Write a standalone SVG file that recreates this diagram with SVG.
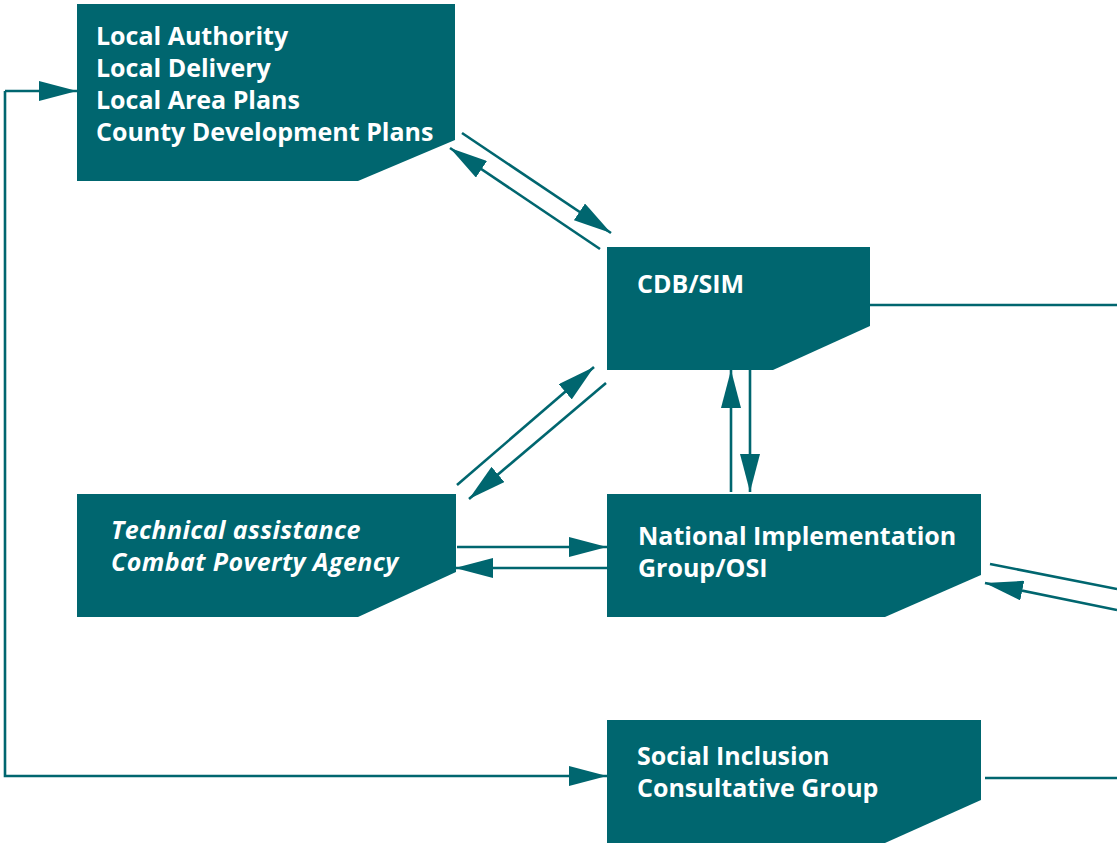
<svg xmlns="http://www.w3.org/2000/svg" width="1117" height="845" viewBox="0 0 1117 845">
  <defs>
    <marker id="head" viewBox="0 0 38 20" refX="38" refY="10" markerWidth="38" markerHeight="20" markerUnits="userSpaceOnUse" orient="auto">
      <path d="M0,0 L38,10 L0,20 Z" fill="#00666f"/>
    </marker>
    <style>
      .box { fill: #00666f; }
      .lbl { fill: #ffffff; font-family: "Open Sans", "Liberation Sans", sans-serif; font-weight: bold; font-size: 25px; }
      .it { font-style: italic; letter-spacing: 0.4px; }
      .wire { stroke: #00666f; stroke-width: 2.6; fill: none; }
      .arr { marker-end: url(#head); }
    </style>
  </defs>
  <rect width="1117" height="845" fill="#ffffff"/>

  <g id="local-authority">
    <path class="box" d="M77,4 H455 V140 L358,181 H77 Z"/>
    <text class="lbl" x="96" y="45">Local Authority</text>
    <text class="lbl" x="96" y="77">Local Delivery</text>
    <text class="lbl" x="96" y="109">Local Area Plans</text>
    <text class="lbl" x="96" y="141">County Development Plans</text>
  </g>

  <g id="cdb-sim">
    <path class="box" d="M607,247 H870 V326 L773,370 H607 Z"/>
    <text class="lbl" x="637" y="293">CDB/SIM</text>
  </g>

  <g id="technical-assistance">
    <path class="box" d="M77,494 H456 V572 L358,617 H77 Z"/>
    <text class="lbl it" x="111" y="539">Technical assistance</text>
    <text class="lbl it" x="111" y="571">Combat Poverty Agency</text>
  </g>

  <g id="national-implementation">
    <path class="box" d="M607,494 H981 V575 L885,617 H607 Z"/>
    <text class="lbl" x="638" y="545">National Implementation</text>
    <text class="lbl" x="638" y="577">Group/OSI</text>
  </g>

  <g id="social-inclusion">
    <path class="box" d="M607,720 H981 V800 L885,843 H607 Z"/>
    <text class="lbl" x="637" y="765">Social Inclusion</text>
    <text class="lbl" x="637" y="797">Consultative Group</text>
  </g>

  <g id="connectors">
    <!-- local authority <-> CDB/SIM -->
    <line class="wire arr" x1="462" y1="133" x2="611" y2="233"/>
    <line class="wire arr" x1="600" y1="249" x2="450" y2="148"/>
    <!-- technical assistance <-> CDB/SIM -->
    <line class="wire arr" x1="457" y1="485" x2="594" y2="367"/>
    <line class="wire arr" x1="606" y1="383" x2="469" y2="499"/>
    <!-- CDB/SIM <-> national implementation -->
    <line class="wire arr" x1="731" y1="492" x2="731" y2="370"/>
    <line class="wire arr" x1="750" y1="370" x2="750" y2="492"/>
    <!-- technical assistance <-> national implementation -->
    <line class="wire arr" x1="457" y1="547" x2="607" y2="547"/>
    <line class="wire arr" x1="607" y1="568" x2="455" y2="568"/>
    <!-- national implementation <-> off to the right -->
    <line class="wire" x1="990" y1="564" x2="1117" y2="589"/>
    <line class="wire arr" x1="1117" y1="610" x2="985" y2="583"/>
    <!-- outgoing lines to the right -->
    <line class="wire" x1="870" y1="305" x2="1117" y2="305"/>
    <line class="wire" x1="985" y1="778" x2="1117" y2="778"/>
    <!-- left loop: local authority / social inclusion -->
    <path class="wire arr" d="M5,91 H77"/>
    <path class="wire arr" d="M5,91 V776 H607"/>
  </g>
</svg>
